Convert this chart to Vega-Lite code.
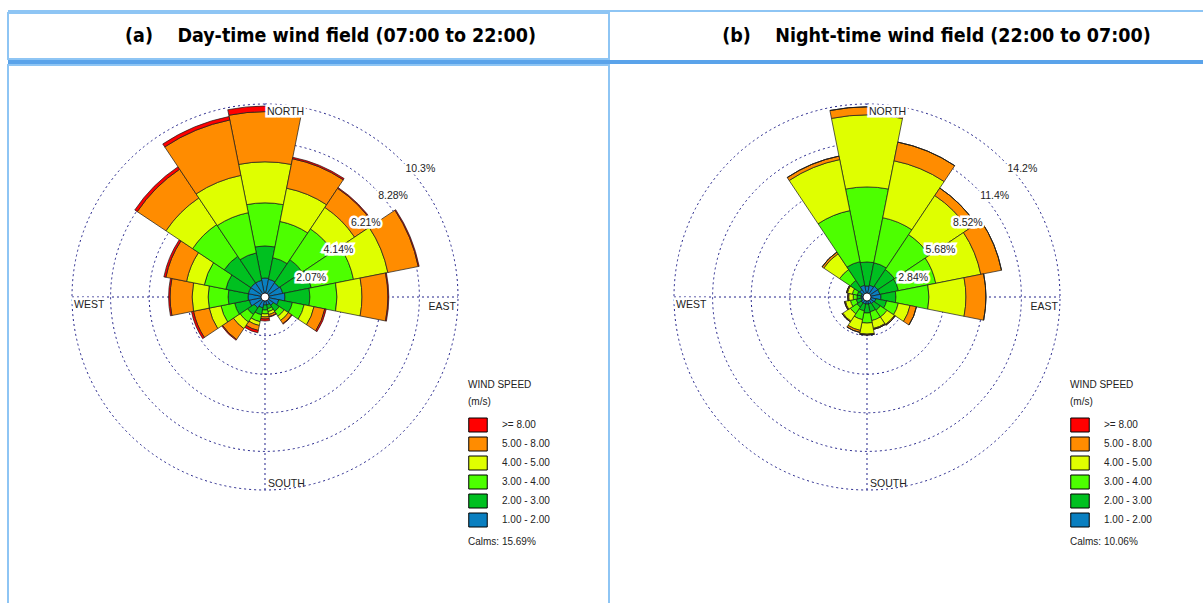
{
"$schema": "https://vega.github.io/schema/vega-lite/v6.json",
"padding": {"left": 7, "top": 10, "right": 0, "bottom": 0},
"background": "white",
"spacing": 0,
"config": {"view": {"stroke": null}, "font": "Liberation Sans", "concat": {"spacing": 0}},
"datasets": {
"day": [
{"dir":0,"s1":1.02,"s2":1.72,"s3":2.31,"s4":2.20,"s5":2.69,"s6":0.30},
{"dir":22.5,"s1":0.97,"s2":1.18,"s3":1.98,"s4":1.82,"s5":1.61,"s6":0.08},
{"dir":45,"s1":0.91,"s2":1.50,"s3":1.98,"s4":1.39,"s5":1.23,"s6":0.05},
{"dir":67.5,"s1":0.97,"s2":1.56,"s3":2.31,"s4":1.88,"s5":1.66,"s6":0.05},
{"dir":90,"s1":1.07,"s2":1.34,"s3":1.45,"s4":1.34,"s5":1.39,"s6":0.05},
{"dir":112.5,"s1":0.75,"s2":0.75,"s3":0.64,"s4":0.54,"s5":0.59,"s6":0.08},
{"dir":135,"s1":0.54,"s2":0.38,"s3":0.32,"s4":0.27,"s5":0.21,"s6":0.03},
{"dir":157.5,"s1":0.43,"s2":0.21,"s3":0.16,"s4":0.16,"s5":0.11,"s6":0.03},
{"dir":180,"s1":0.43,"s2":0.27,"s3":0.21,"s4":0.16,"s5":0.11,"s6":0.11},
{"dir":202.5,"s1":0.59,"s2":0.38,"s3":0.38,"s4":0.21,"s5":0.27,"s6":0.13},
{"dir":225,"s1":0.70,"s2":0.43,"s3":0.48,"s4":0.43,"s5":0.70,"s6":0.05},
{"dir":247.5,"s1":0.86,"s2":0.80,"s3":0.75,"s4":0.64,"s5":0.86,"s6":0.11},
{"dir":270,"s1":0.91,"s2":1.07,"s3":1.07,"s4":0.86,"s5":1.18,"s6":0.08},
{"dir":292.5,"s1":0.91,"s2":1.23,"s3":1.18,"s4":0.97,"s5":1.13,"s6":0.11},
{"dir":315,"s1":0.91,"s2":1.72,"s3":2.04,"s4":1.72,"s5":1.85,"s6":0.16},
{"dir":337.5,"s1":0.91,"s2":1.50,"s3":2.20,"s4":2.04,"s5":3.03,"s6":0.19}
],
"night": [
{"dir":0,"s1":0.81,"s2":1.77,"s3":5.52,"s4":5.30,"s5":0.59,"s6":0},
{"dir":22.5,"s1":0.88,"s2":1.69,"s3":3.38,"s4":4.27,"s5":1.40,"s6":0},
{"dir":45,"s1":0.96,"s2":1.47,"s3":3.09,"s4":3.46,"s5":0.66,"s6":0},
{"dir":67.5,"s1":0.96,"s2":1.40,"s3":2.80,"s4":3.38,"s5":1.55,"s6":0},
{"dir":90,"s1":1.03,"s2":1.10,"s3":2.43,"s4":2.72,"s5":1.47,"s6":0},
{"dir":112.5,"s1":0.66,"s2":0.81,"s3":0.88,"s4":0.88,"s5":0.48,"s6":0},
{"dir":135,"s1":0.59,"s2":0.59,"s3":0.59,"s4":0.66,"s5":0.07,"s6":0},
{"dir":157.5,"s1":0.52,"s2":0.59,"s3":0.66,"s4":0.59,"s5":0.07,"s6":0},
{"dir":180,"s1":0.52,"s2":0.66,"s3":0.74,"s4":0.81,"s5":0.07,"s6":0},
{"dir":202.5,"s1":0.52,"s2":0.52,"s3":0.66,"s4":0.81,"s5":0.15,"s6":0},
{"dir":225,"s1":0.52,"s2":0.37,"s3":0.59,"s4":0.66,"s5":0.07,"s6":0},
{"dir":247.5,"s1":0.44,"s2":0.37,"s3":0.44,"s4":0.37,"s5":0.07,"s6":0},
{"dir":270,"s1":0.44,"s2":0.29,"s3":0.29,"s4":0.33,"s5":0.07,"s6":0},
{"dir":292.5,"s1":0.44,"s2":0.29,"s3":0.37,"s4":0.37,"s5":0.07,"s6":0},
{"dir":315,"s1":0.66,"s2":0.81,"s3":0.96,"s4":1.40,"s5":0.15,"s6":0},
{"dir":337.5,"s1":0.88,"s2":1.77,"s3":3.83,"s4":3.83,"s5":0.26,"s6":0}
],
"ringsDay": [{"ring":2.07,"label":"2.07%"},{"ring":4.14,"label":"4.14%"},{"ring":6.21,"label":"6.21%"},{"ring":8.28,"label":"8.28%"},{"ring":10.35,"label":"10.3%"}],
"ringsNight": [{"ring":2.84,"label":"2.84%"},{"ring":5.68,"label":"5.68%"},{"ring":8.52,"label":"8.52%"},{"ring":11.36,"label":"11.4%"},{"ring":14.2,"label":"14.2%"}],
"compass": [{"t":"NORTH","deg":0},{"t":"EAST","deg":90},{"t":"SOUTH","deg":180},{"t":"WEST","deg":270}],
"one": [{}]
},
"vconcat": [
{"width": 1196, "height": 2, "data": {"name": "one"}, "mark": {"type": "rect", "color": "#8ec5f4"}, "encoding": {}},
{"spacing": 0, "hconcat": [
 {"width": 601, "height": 46, "data": {"name": "one"}, "view": {"stroke": "#8ec5f4", "strokeWidth": 2},
  "mark": {"type": "text", "text": "(a)\u00a0\u00a0\u00a0\u00a0Day-time wind field (07:00 to 22:00)", "font": "DejaVu Sans Condensed, Liberation Sans, sans-serif", "fontWeight": "bold", "fontSize": 19.5, "dx": 22, "color": "#000"}, "encoding": {}},
 {"width": 595, "height": 46, "data": {"name": "one"}, "view": {"stroke": null},
  "mark": {"type": "text", "text": "(b)\u00a0\u00a0\u00a0\u00a0Night-time wind field (22:00 to 07:00)", "font": "DejaVu Sans Condensed, Liberation Sans, sans-serif", "fontWeight": "bold", "fontSize": 19.5, "dx": 29, "color": "#000"}, "encoding": {}}
]},
{"width": 1196, "height": 4, "data": {"name": "one"}, "mark": {"type": "rect", "color": "#5aa3ea"}, "encoding": {}},
{"spacing": 0, "hconcat": [
 {"width": 601, "height": 540, "view": {"stroke": "#8ec5f4", "strokeWidth": 2},
  "encoding": {
   "x": {"datum": 0, "type": "quantitative", "scale": {"domain": [-13.782, 18.448], "nice": false, "zero": false}, "axis": null},
   "y": {"datum": 0, "type": "quantitative", "scale": {"domain": [-16.517, 12.442], "nice": false, "zero": false}, "axis": null}
  },
  "layer": [
   {"data": {"name": "ringsDay"}, "mark": {"type": "arc", "filled": false, "theta": 0, "theta2": 6.2832, "stroke": "#22228a", "strokeWidth": 1, "strokeDash": [2, 3]},
    "encoding": {"radius": {"field": "ring", "type": "quantitative", "scale": {"type": "linear", "domain": [0, 10.35], "range": [0, 193], "nice": false, "zero": true}, "stack": null}}},
   {"data": {"name": "one"}, "mark": {"type": "rule", "stroke": "#22228a", "strokeWidth": 1, "strokeDash": [2, 3]},
    "encoding": {"x": {"datum": -10.35, "type": "quantitative"}, "x2": {"datum": 10.35}, "y": {"datum": 0, "type": "quantitative"}}},
   {"data": {"name": "one"}, "mark": {"type": "rule", "stroke": "#22228a", "strokeWidth": 1, "strokeDash": [2, 3]},
    "encoding": {"y": {"datum": -10.35, "type": "quantitative"}, "y2": {"datum": 10.35}, "x": {"datum": 0, "type": "quantitative"}}},
   {"data": {"name": "day"},
    "transform": [
     {"fold": ["s1", "s2", "s3", "s4", "s5", "s6"], "as": ["speed", "freq"]},
     {"stack": "freq", "groupby": ["dir"], "sort": [{"field": "speed", "order": "ascending"}], "as": ["r0", "r1"]}
    ],
    "mark": {"type": "arc", "stroke": "#1a1a1a", "strokeWidth": 0.7, "thetaOffset": -0.19635, "theta2Offset": 0.19635},
    "encoding": {
     "theta": {"field": "dir", "type": "quantitative", "scale": {"domain": [0, 360], "range": [0, 6.283185]}, "stack": null},
     "theta2": {"field": "dir"},
     "radius": {"field": "r1", "type": "quantitative", "scale": {"type": "linear", "domain": [0, 10.35], "range": [0, 193], "nice": false, "zero": true}, "stack": null},
     "radius2": {"field": "r0"},
     "color": {"field": "speed", "type": "nominal",
      "scale": {"domain": ["s6", "s5", "s4", "s3", "s2", "s1"], "range": ["#ff0000", "#ff8c00", "#dfff00", "#4dff00", "#00c020", "#0a7fc0"]},
      "legend": {"orient": "none", "legendX": 460, "legendY": 315, "title": ["WIND SPEED", "(m/s)"], "titleFontSize": 10, "titleFontWeight": "normal", "titleColor": "#222", "titleLineHeight": 17, "titlePadding": 8,
       "labelFontSize": 10, "labelColor": "#222", "labelOffset": 14, "symbolType": "M-1,-0.757H1V0.757H-1Z", "symbolSize": 342, "symbolStrokeColor": "#000", "symbolStrokeWidth": 1, "symbolOpacity": 1, "rowPadding": 0,
       "labelExpr": "{'s6':'>= 8.00','s5':'5.00 - 8.00','s4':'4.00 - 5.00','s3':'3.00 - 4.00','s2':'2.00 - 3.00','s1':'1.00 - 2.00'}[datum.value]"}}
    }},
   {"data": {"name": "one"}, "mark": {"type": "arc", "radius": 4, "theta": 0, "theta2": 6.2832, "fill": "white", "stroke": "#000", "strokeWidth": 0.8}},
   {"data": {"name": "ringsDay"}, "mark": {"type": "text", "align": "left", "baseline": "middle", "dx": 4, "dy": 8, "fontSize": 10.5, "fill": "white", "stroke": "white", "strokeWidth": 5},
    "encoding": {"text": {"field": "label"}, "theta": {"datum": 45, "type": "quantitative", "scale": {"domain": [0, 360], "range": [0, 6.283185]}},
     "radius": {"field": "ring", "type": "quantitative", "scale": {"type": "linear", "domain": [0, 10.35], "range": [0, 193], "nice": false, "zero": true}}}},
   {"data": {"name": "ringsDay"}, "mark": {"type": "text", "align": "left", "baseline": "middle", "dx": 4, "dy": 8, "fontSize": 10.5, "fill": "#222"},
    "encoding": {"text": {"field": "label"}, "theta": {"datum": 45, "type": "quantitative", "scale": {"domain": [0, 360], "range": [0, 6.283185]}},
     "radius": {"field": "ring", "type": "quantitative", "scale": {"type": "linear", "domain": [0, 10.35], "range": [0, 193], "nice": false, "zero": true}}}},
   {"data": {"name": "compass"}, "transform": [{"filter": "datum.t == 'NORTH' || datum.t == 'WEST'"}], "mark": {"type": "text", "align": "left", "baseline": "top", "dx": 2, "dy": 3, "fontSize": 10.5, "fill": "white", "stroke": "white", "strokeWidth": 5},
    "encoding": {"text": {"field": "t"}, "theta": {"field": "deg", "type": "quantitative", "scale": {"domain": [0, 360], "range": [0, 6.283185]}},
     "radius": {"datum": 10.35, "type": "quantitative", "scale": {"type": "linear", "domain": [0, 10.35], "range": [0, 193], "nice": false, "zero": true}}}},
   {"data": {"name": "compass"}, "transform": [{"filter": "datum.t == 'NORTH' || datum.t == 'WEST'"}], "mark": {"type": "text", "align": "left", "baseline": "top", "dx": 2, "dy": 3, "fontSize": 10.5, "fill": "#222"},
    "encoding": {"text": {"field": "t"}, "theta": {"field": "deg", "type": "quantitative", "scale": {"domain": [0, 360], "range": [0, 6.283185]}},
     "radius": {"datum": 10.35, "type": "quantitative", "scale": {"type": "linear", "domain": [0, 10.35], "range": [0, 193], "nice": false, "zero": true}}}},
   {"data": {"name": "compass"}, "transform": [{"filter": "datum.t == 'EAST'"}], "mark": {"type": "text", "align": "right", "baseline": "top", "dx": -2, "dy": 5, "fontSize": 10.5, "fill": "#222"},
    "encoding": {"text": {"field": "t"}, "theta": {"field": "deg", "type": "quantitative", "scale": {"domain": [0, 360], "range": [0, 6.283185]}},
     "radius": {"datum": 10.35, "type": "quantitative", "scale": {"type": "linear", "domain": [0, 10.35], "range": [0, 193], "nice": false, "zero": true}}}},
   {"data": {"name": "compass"}, "transform": [{"filter": "datum.t == 'SOUTH'"}], "mark": {"type": "text", "align": "left", "baseline": "bottom", "dx": 3, "dy": -1, "fontSize": 10.5, "fill": "#222"},
    "encoding": {"text": {"field": "t"}, "theta": {"field": "deg", "type": "quantitative", "scale": {"domain": [0, 360], "range": [0, 6.283185]}},
     "radius": {"datum": 10.35, "type": "quantitative", "scale": {"type": "linear", "domain": [0, 10.35], "range": [0, 193], "nice": false, "zero": true}}}},
   {"data": {"name": "one"}, "mark": {"type": "text", "text": "Calms: 15.69%", "align": "left", "baseline": "middle", "fontSize": 10, "fill": "#222"},
    "encoding": {"x": {"datum": 10.886, "type": "quantitative"}, "y": {"datum": -13.125, "type": "quantitative"}}}
  ]},
 {"width": 595, "height": 540, "view": {"stroke": null},
  "encoding": {
   "x": {"datum": 0, "type": "quantitative", "scale": {"domain": [-18.908, 24.868], "nice": false, "zero": false}, "axis": null},
   "y": {"datum": 0, "type": "quantitative", "scale": {"domain": [-22.660, 17.069], "nice": false, "zero": false}, "axis": null}
  },
  "layer": [
   {"data": {"name": "ringsNight"}, "mark": {"type": "arc", "filled": false, "theta": 0, "theta2": 6.2832, "stroke": "#22228a", "strokeWidth": 1, "strokeDash": [2, 3]},
    "encoding": {"radius": {"field": "ring", "type": "quantitative", "scale": {"type": "linear", "domain": [0, 14.2], "range": [0, 193], "nice": false, "zero": true}, "stack": null}}},
   {"data": {"name": "one"}, "mark": {"type": "rule", "stroke": "#22228a", "strokeWidth": 1, "strokeDash": [2, 3]},
    "encoding": {"x": {"datum": -14.2, "type": "quantitative"}, "x2": {"datum": 14.2}, "y": {"datum": 0, "type": "quantitative"}}},
   {"data": {"name": "one"}, "mark": {"type": "rule", "stroke": "#22228a", "strokeWidth": 1, "strokeDash": [2, 3]},
    "encoding": {"y": {"datum": -14.2, "type": "quantitative"}, "y2": {"datum": 14.2}, "x": {"datum": 0, "type": "quantitative"}}},
   {"data": {"name": "night"},
    "transform": [
     {"fold": ["s1", "s2", "s3", "s4", "s5", "s6"], "as": ["speed", "freq"]},
     {"stack": "freq", "groupby": ["dir"], "sort": [{"field": "speed", "order": "ascending"}], "as": ["r0", "r1"]}
    ],
    "mark": {"type": "arc", "stroke": "#1a1a1a", "strokeWidth": 0.7, "thetaOffset": -0.19635, "theta2Offset": 0.19635},
    "encoding": {
     "theta": {"field": "dir", "type": "quantitative", "scale": {"domain": [0, 360], "range": [0, 6.283185]}, "stack": null},
     "theta2": {"field": "dir"},
     "radius": {"field": "r1", "type": "quantitative", "scale": {"type": "linear", "domain": [0, 14.2], "range": [0, 193], "nice": false, "zero": true}, "stack": null},
     "radius2": {"field": "r0"},
     "color": {"field": "speed", "type": "nominal",
      "scale": {"domain": ["s6", "s5", "s4", "s3", "s2", "s1"], "range": ["#ff0000", "#ff8c00", "#dfff00", "#4dff00", "#00c020", "#0a7fc0"]},
      "legend": {"orient": "none", "legendX": 460, "legendY": 315, "title": ["WIND SPEED", "(m/s)"], "titleFontSize": 10, "titleFontWeight": "normal", "titleColor": "#222", "titleLineHeight": 17, "titlePadding": 8,
       "labelFontSize": 10, "labelColor": "#222", "labelOffset": 14, "symbolType": "M-1,-0.757H1V0.757H-1Z", "symbolSize": 342, "symbolStrokeColor": "#000", "symbolStrokeWidth": 1, "symbolOpacity": 1, "rowPadding": 0,
       "labelExpr": "{'s6':'>= 8.00','s5':'5.00 - 8.00','s4':'4.00 - 5.00','s3':'3.00 - 4.00','s2':'2.00 - 3.00','s1':'1.00 - 2.00'}[datum.value]"}}
    }},
   {"data": {"name": "one"}, "mark": {"type": "arc", "radius": 4, "theta": 0, "theta2": 6.2832, "fill": "white", "stroke": "#000", "strokeWidth": 0.8}},
   {"data": {"name": "ringsNight"}, "mark": {"type": "text", "align": "left", "baseline": "middle", "dx": 4, "dy": 8, "fontSize": 10.5, "fill": "white", "stroke": "white", "strokeWidth": 5},
    "encoding": {"text": {"field": "label"}, "theta": {"datum": 45, "type": "quantitative", "scale": {"domain": [0, 360], "range": [0, 6.283185]}},
     "radius": {"field": "ring", "type": "quantitative", "scale": {"type": "linear", "domain": [0, 14.2], "range": [0, 193], "nice": false, "zero": true}}}},
   {"data": {"name": "ringsNight"}, "mark": {"type": "text", "align": "left", "baseline": "middle", "dx": 4, "dy": 8, "fontSize": 10.5, "fill": "#222"},
    "encoding": {"text": {"field": "label"}, "theta": {"datum": 45, "type": "quantitative", "scale": {"domain": [0, 360], "range": [0, 6.283185]}},
     "radius": {"field": "ring", "type": "quantitative", "scale": {"type": "linear", "domain": [0, 14.2], "range": [0, 193], "nice": false, "zero": true}}}},
   {"data": {"name": "compass"}, "transform": [{"filter": "datum.t == 'NORTH' || datum.t == 'WEST'"}], "mark": {"type": "text", "align": "left", "baseline": "top", "dx": 2, "dy": 3, "fontSize": 10.5, "fill": "white", "stroke": "white", "strokeWidth": 5},
    "encoding": {"text": {"field": "t"}, "theta": {"field": "deg", "type": "quantitative", "scale": {"domain": [0, 360], "range": [0, 6.283185]}},
     "radius": {"datum": 14.2, "type": "quantitative", "scale": {"type": "linear", "domain": [0, 14.2], "range": [0, 193], "nice": false, "zero": true}}}},
   {"data": {"name": "compass"}, "transform": [{"filter": "datum.t == 'NORTH' || datum.t == 'WEST'"}], "mark": {"type": "text", "align": "left", "baseline": "top", "dx": 2, "dy": 3, "fontSize": 10.5, "fill": "#222"},
    "encoding": {"text": {"field": "t"}, "theta": {"field": "deg", "type": "quantitative", "scale": {"domain": [0, 360], "range": [0, 6.283185]}},
     "radius": {"datum": 14.2, "type": "quantitative", "scale": {"type": "linear", "domain": [0, 14.2], "range": [0, 193], "nice": false, "zero": true}}}},
   {"data": {"name": "compass"}, "transform": [{"filter": "datum.t == 'EAST'"}], "mark": {"type": "text", "align": "right", "baseline": "top", "dx": -2, "dy": 5, "fontSize": 10.5, "fill": "#222"},
    "encoding": {"text": {"field": "t"}, "theta": {"field": "deg", "type": "quantitative", "scale": {"domain": [0, 360], "range": [0, 6.283185]}},
     "radius": {"datum": 14.2, "type": "quantitative", "scale": {"type": "linear", "domain": [0, 14.2], "range": [0, 193], "nice": false, "zero": true}}}},
   {"data": {"name": "compass"}, "transform": [{"filter": "datum.t == 'SOUTH'"}], "mark": {"type": "text", "align": "left", "baseline": "bottom", "dx": 3, "dy": -1, "fontSize": 10.5, "fill": "#222"},
    "encoding": {"text": {"field": "t"}, "theta": {"field": "deg", "type": "quantitative", "scale": {"domain": [0, 360], "range": [0, 6.283185]}},
     "radius": {"datum": 14.2, "type": "quantitative", "scale": {"type": "linear", "domain": [0, 14.2], "range": [0, 193], "nice": false, "zero": true}}}},
   {"data": {"name": "one"}, "mark": {"type": "text", "text": "Calms: 10.06%", "align": "left", "baseline": "middle", "fontSize": 10, "fill": "#222"},
    "encoding": {"x": {"datum": 14.935, "type": "quantitative"}, "y": {"datum": -18.006, "type": "quantitative"}}}
  ]}
], "resolve": {"scale": {"color": "independent", "x": "independent", "y": "independent", "radius": "independent", "theta": "independent"}, "legend": {"color": "independent"}}}
]
}
